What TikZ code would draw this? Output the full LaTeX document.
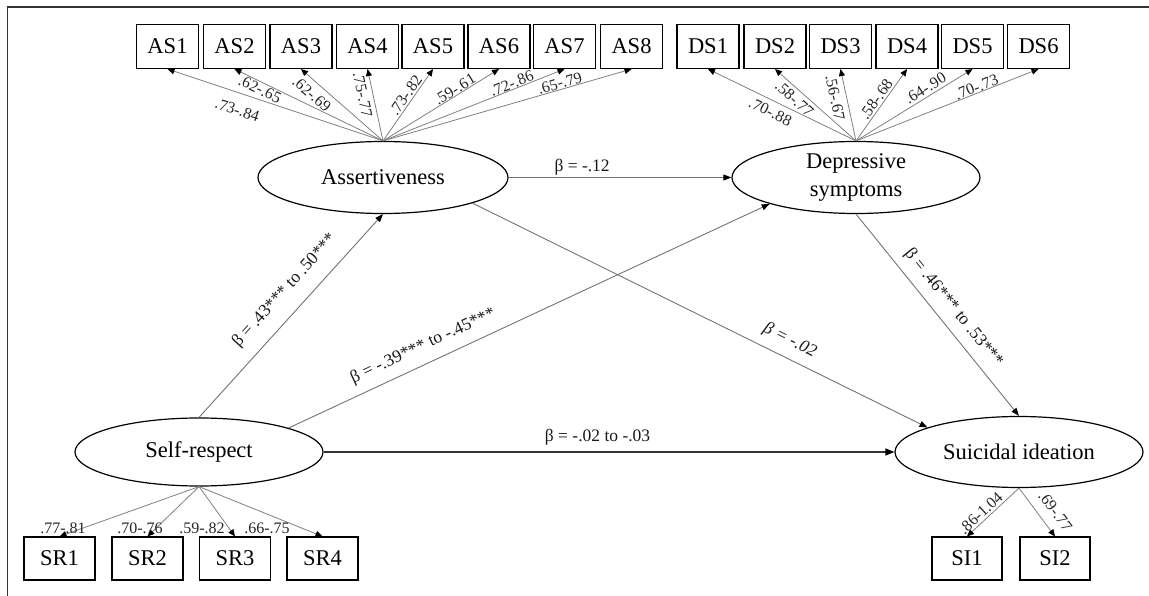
\documentclass[tikz,border=0pt]{standalone}
\usepackage{fontspec}
\setmainfont{Liberation Serif}
\usetikzlibrary{shapes.geometric,arrows.meta}
\begin{document}
\begin{tikzpicture}[x=1pt,y=-1pt,
  obs/.style={draw=black, line width=1.1pt, minimum width=62pt, minimum height=44pt, inner sep=0pt, font=\fontsize{22.5}{24}\selectfont},
  obsb/.style={obs, minimum width=71pt, minimum height=43pt},
  lat/.style={ellipse, draw=black, line width=1.2pt, minimum width=250pt, minimum height=72pt, inner sep=0pt, font=\fontsize{22.5}{27.5}\selectfont, align=center},
  load/.style={draw=black!50, line width=0.8pt, -{Triangle[length=7pt,width=6pt,color=black]}},
  spath/.style={draw=black!55, line width=0.9pt, -{Triangle[length=8pt,width=6pt,color=black]}},
  mpath/.style={draw=black!80, line width=1.6pt, -{Triangle[length=9pt,width=7pt,color=black]}},
  lbl/.style={font=\fontsize{16}{18}\selectfont, text=black!85},
  blbl/.style={font=\fontsize{17.5}{19}\selectfont, text=black!90},
  up/.style={sloped, anchor=south, inner sep=#1},
  dn/.style={sloped, anchor=north, inner sep=#1},
]
\useasboundingbox (0,0) rectangle (1149,596);
\draw[line width=1.6pt, black!80] (1149,7) -- (7.5,7) -- (7.5,596);

% observed indicators
\foreach \i/\x in {1/167.5,2/234.5,3/301,4/367.5,5/433,6/499,7/564.5,8/631.5}
  \node[obs] (as\i) at (\x,46.5) {AS\i};
\foreach \i/\x in {1/708,2/775,3/840.5,4/907,5/972.5,6/1038.5}
  \node[obs] (ds\i) at (\x,46.5) {DS\i};
\foreach \i/\x in {1/59.5,2/147.5,3/235,4/322.5}
  \node[obsb] (sr\i) at (\x,558.5) {SR\i};
\node[obsb, minimum width=70pt] (si1) at (967,558.5) {SI1};
\node[obsb, minimum width=70pt] (si2) at (1055,558.5) {SI2};

% latent variables
\node[lat] (asr) at (383,177.5) {Assertiveness};
\node[lat, minimum width=248pt] (dep) at (856,177.5) {Depressive\\symptoms};
\node[lat, minimum width=248pt, minimum height=68pt] (sr) at (199,452) {Self-respect};
\node[lat, minimum width=248pt, minimum height=71pt] (si) at (1019,452) {Suicidal ideation};

% assertiveness loadings
\draw[load] (asr.north) -- node[lbl, dn=11pt, pos=.651] {.73-.84} (as1.south);
\draw[load] (asr.north) -- node[lbl, dn=1.3pt, pos=.808] {.62-.65} (as2.south);
\draw[load] (asr.north) -- node[lbl, dn=6pt, pos=.774] {.62-.69} (as3.south);
\draw[load] (asr.north) -- node[lbl, dn=4.4pt, pos=.672] {.75-.77} (as4.south);
\draw[load] (asr.north) -- node[lbl, up=1.6pt, pos=.576] {.73-.82} (as5.south);
\draw[load] (asr.north) -- node[lbl, up=0.3pt, pos=.647] {.59-.61} (as6.south);
\draw[load] (asr.north) -- node[lbl, up=0.3pt, pos=.722] {.72-.86} (as7.south);
\draw[load] (asr.north) -- node[lbl, up=0.4pt, pos=.719] {.65-.79} (as8.south);

% depressive loadings
\draw[load] (dep.north) -- node[lbl, dn=5.5pt, pos=.545] {.70-.88} (ds1.south);
\draw[load] (dep.north) -- node[lbl, dn=3.7pt, pos=.682] {.58-.77} (ds2.south);
\draw[load] (dep.north) -- node[lbl, dn=5.4pt, pos=.635] {.56-.67} (ds3.south);
\draw[load] (dep.north) -- node[lbl, up=1.8pt, pos=.519] {.58-.68} (ds4.south);
\draw[load] (dep.north) -- node[lbl, up=2.5pt, pos=.634] {.64-.90} (ds5.south);
\draw[load] (dep.north) -- node[lbl, up=0pt, pos=.672] {.70-.73} (ds6.south);

% self-respect loadings
\foreach \i in {1,...,4} \draw[load] (sr.south) -- (sr\i.north);
\node[lbl] (l1) at (63,528) {.77-.81};
\node[lbl] (l2) at (140,528) {.70-.76};
\node[lbl] (l3) at (202,528) {.59-.82};
\node[lbl] (l4) at (267,528) {.66-.75};

% suicidal ideation loadings
\draw[load] (si.south) -- node[lbl, up=1.9pt, pos=.635] {.86-1.04} (si1.north);
\draw[load] (si.south) -- node[lbl, up=9.5pt, pos=.668] {.69-.77} (si2.north);

% structural paths
\draw[spath] (asr.east) -- node[blbl, anchor=south, inner sep=1.7pt, pos=.33] {β = -.12} (dep.west);
\draw[spath] (sr.north) -- node[blbl, up=13pt, pos=.552] {β = .43*** to .50***} (asr.south);
\draw[spath] (sr.15) -- node[blbl, up=9pt, pos=.295] {β = -.39*** to -.45***} (dep.197);
\draw[spath] (asr.-16) -- node[blbl, up=8.6pt, pos=.681, font=\fontsize{17.5}{19}\selectfont\itshape] {β = -.02} (si.165);
\draw[spath] (dep.south) -- node[blbl, up=8.4pt, pos=.518] {β = .46*** to .53***} (si.north);
\draw[mpath] (sr.east) -- node[blbl, anchor=south, inner sep=5.7pt, pos=.48] {β = -.02 to -.03} (si.west);
\end{tikzpicture}
\end{document}
